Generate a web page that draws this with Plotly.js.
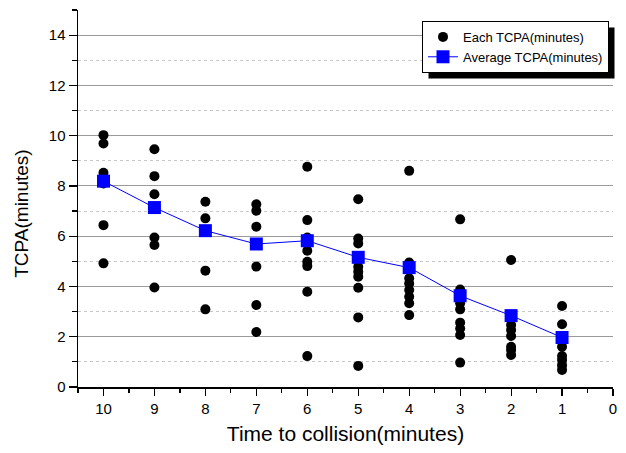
<!DOCTYPE html>
<html>
<head>
<meta charset="utf-8">
<script src="https://cdn.plot.ly/plotly-3.0.1.min.js"></script>
<style>
html,body{margin:0;padding:0;background:#fff;}
#chart{width:626px;height:453px;}
</style>
</head>
<body>
<div id="chart"></div>
<script>
// TCPA values (minutes) for each time-to-collision column
const col10 = [10.02, 9.69, 8.52, 8.10, 6.44, 4.92];
const col9 = [9.46, 8.39, 7.67, 5.95, 5.65, 3.96];
const col8 = [7.37, 6.71, 4.63, 3.09];
const col7 = [7.27, 7.01, 6.38, 4.79, 3.26, 2.19];
const col6 = [8.76, 6.64, 5.95, 5.42, 4.98, 4.81, 3.79, 1.23];
const col5 = [7.47, 5.91, 5.71, 4.78, 4.59, 4.39, 3.95, 2.77, 0.84];
const col4 = [8.60, 4.95, 4.33, 4.12, 3.86, 3.59, 3.33, 2.86];
const col3 = [6.67, 3.88, 3.33, 3.09, 2.56, 2.33, 2.07, 0.97];
const col2 = [5.05, 2.47, 2.27, 2.03, 1.60, 1.47, 1.27];
const col1 = [3.22, 2.50, 1.60, 1.23, 1.07, 0.87, 0.68];
const columnTimes = [10, 9, 8, 7, 6, 5, 4, 3, 2, 1];
const columns = [col10, col9, col8, col7, col6, col5, col4, col3, col2, col1];

const avgTimes = [10, 9, 8, 7, 6, 5, 4, 3, 2, 1];
const avgTCPA = [8.19, 7.14, 6.22, 5.69, 5.82, 5.16, 4.75, 3.63, 2.84, 1.97];

const xTickVals = [10, 9, 8, 7, 6, 5, 4, 3, 2, 1, 0];
const xTickText = ['10', '9', '8', '7', '6', '5', '4', '3', '2', '1', '0'];

const eachX = [], eachY = [];
columns.forEach((c, i) => c.forEach(v => { eachX.push(columnTimes[i]); eachY.push(v); }));

const FONT = '"Liberation Sans", Arial, sans-serif';

const traces = [
  {
    x: eachX, y: eachY, type: 'scatter', mode: 'markers',
    name: 'Each TCPA(minutes)',
    marker: {symbol: 'circle', size: 10, color: '#000000'},
    hoverinfo: 'skip'
  },
  {
    x: avgTimes, y: avgTCPA, type: 'scatter', mode: 'lines+markers',
    name: 'Average TCPA(minutes)',
    line: {color: '#0000ff', width: 1},
    marker: {symbol: 'square', size: 13, color: '#0000ff'},
    hoverinfo: 'skip'
  }
];

const layout = {
  width: 626, height: 453,
  margin: {l: 78, r: 13, t: 10, b: 66, pad: 0},
  paper_bgcolor: '#ffffff', plot_bgcolor: '#ffffff',
  font: {family: FONT, color: '#000000', size: 15},
  showlegend: true,
  legend: {
    x: 0.643, y: 0.971, xanchor: 'left', yanchor: 'top',
    bgcolor: '#ffffff', bordercolor: '#000000', borderwidth: 1,
    font: {family: FONT, size: 13, color: '#000000'},
    tracegroupgap: 0, itemwidth: 30
  },
  xaxis: {
    range: [10.5, 0], autorange: false,
    tickmode: 'array', tickvals: xTickVals, ticktext: xTickText,
    ticks: 'outside', ticklen: 7, tickwidth: 1.2, tickcolor: '#000000',
    showline: true, linecolor: '#000000', linewidth: 1.5, mirror: false,
    showgrid: false, zeroline: false,
    tickfont: {family: FONT, size: 15, color: '#000000'},
    minor: {dtick: 0.5, tick0: 0, ticks: 'outside', ticklen: 4, tickwidth: 1.2, tickcolor: '#000000', showgrid: false},
    title: {text: 'Time to collision(minutes)', font: {family: FONT, size: 21, color: '#000000'}, standoff: 11},
    automargin: false
  },
  yaxis: {
    range: [0, 15], autorange: false,
    tick0: 0, dtick: 2,
    ticks: 'outside', ticklen: 8, tickwidth: 1.2, tickcolor: '#000000',
    showline: true, linecolor: '#000000', linewidth: 1.5, mirror: false,
    showgrid: true, gridcolor: '#9a9a9a', gridwidth: 1,
    zeroline: false,
    tickfont: {family: FONT, size: 15, color: '#000000'},
    minor: {dtick: 1, tick0: 0, ticks: 'outside', ticklen: 5, tickwidth: 1.2, tickcolor: '#000000',
            showgrid: true, gridcolor: '#c8c8c8', griddash: 'dot', gridwidth: 1},
    automargin: false
  },
  annotations: [{
    text: 'TCPA(minutes)', textangle: -90, showarrow: false,
    xref: 'paper', yref: 'paper', x: -0.105, y: 0.459,
    xanchor: 'center', yanchor: 'middle',
    font: {family: FONT, size: 19, color: '#000000'}
  }]
};

Plotly.newPlot('chart', traces, layout, {displayModeBar: false, staticPlot: true}).then(gd => {
  const bg = gd.querySelector('.legend .bg');
  if (!bg) return;
  const r = bg.getBoundingClientRect();
  const g = gd.getBoundingClientRect();
  const s = gd._fullLayout._size;
  const toPX = px => (px - s.l) / s.w;
  const toPY = py => 1 - (py - s.t) / s.h;
  const x0 = r.left - g.left + 6, x1 = r.right - g.left + 6;
  const y0 = r.top - g.top + 6, y1 = r.bottom - g.top + 6;
  Plotly.relayout(gd, {shapes: [{
    type: 'rect', xref: 'paper', yref: 'paper', layer: 'above',
    x0: toPX(x0), x1: toPX(x1), y0: toPY(y1), y1: toPY(y0),
    fillcolor: '#000000', line: {width: 0}
  }]});
});
</script>
</body>
</html>
